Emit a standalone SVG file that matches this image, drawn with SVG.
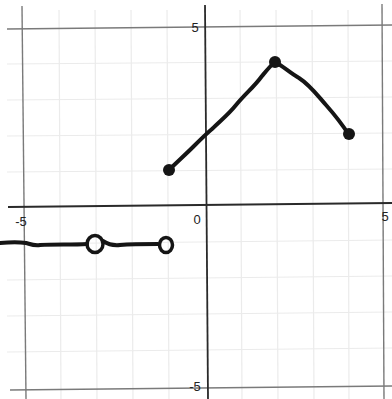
<svg xmlns="http://www.w3.org/2000/svg" width="392" height="399" viewBox="0 0 392 399">
<style>
.grid{stroke:#ebebeb;stroke-width:1.2;fill:none}
.border{stroke:#7a7a7a;stroke-width:1.4;fill:none}
.axis{stroke:#2a2a2a;stroke-width:1.8;fill:none}
.ink{stroke:#151515;stroke-width:4;fill:none;stroke-linecap:round;stroke-linejoin:round}
.lbl{font-family:"Liberation Sans",Arial,sans-serif;font-size:13px;fill:#222}
</style>
<rect width="392" height="399" fill="#ffffff"/>
<g id="grid">
<line class="grid" x1="59" y1="10" x2="61" y2="399"/>
<line class="grid" x1="95" y1="10" x2="97" y2="399"/>
<line class="grid" x1="131" y1="10" x2="133" y2="399"/>
<line class="grid" x1="167" y1="10" x2="169" y2="399"/>
<line class="grid" x1="240" y1="10" x2="242" y2="399"/>
<line class="grid" x1="276" y1="10" x2="278" y2="399"/>
<line class="grid" x1="312" y1="10" x2="314" y2="399"/>
<line class="grid" x1="348" y1="10" x2="349" y2="399"/>
<line class="grid" x1="7" y1="64" x2="392" y2="61"/>
<line class="grid" x1="7" y1="100" x2="392" y2="97"/>
<line class="grid" x1="7" y1="136" x2="392" y2="133"/>
<line class="grid" x1="7" y1="172" x2="392" y2="169"/>
<line class="grid" x1="7" y1="244" x2="392" y2="240"/>
<line class="grid" x1="7" y1="280" x2="392" y2="276"/>
<line class="grid" x1="7" y1="316" x2="392" y2="312"/>
<line class="grid" x1="7" y1="352" x2="392" y2="348"/>
</g>
<g id="borders">
<line class="border" x1="22" y1="6" x2="26" y2="399"/>
<line class="border" x1="382" y1="4" x2="384" y2="399"/>
<line class="border" x1="7" y1="29" x2="392" y2="25"/>
<line class="border" x1="10" y1="390" x2="392" y2="386"/>
</g>
<g id="axes">
<line class="axis" x1="205" y1="5" x2="208" y2="399"/>
<line class="axis" x1="8" y1="207" x2="392" y2="203"/>
</g>
<g id="labels">
<text class="lbl" x="195" y="32" text-anchor="middle">5</text>
<text class="lbl" x="21" y="226" text-anchor="middle">-5</text>
<text class="lbl" x="197" y="224" text-anchor="middle">0</text>
<text class="lbl" x="385" y="221" text-anchor="middle">5</text>
<text class="lbl" x="195" y="391" text-anchor="middle">-5</text>
</g>
<g id="upper-piece">
<path class="ink" d="M169,170 C176,163 186,154 193,147 C200,140 206,134 212,129 C220,121 228,115 236,105 C246,93 254,87 262,76 C267,70 271,65 275,62 C283,66 290,73 299,78 C310,85 318,96 326,105 C334,114 342,124 349,135"/>
<circle cx="169" cy="170" r="6" fill="#151515"/>
<circle cx="275" cy="62" r="6" fill="#151515"/>
<circle cx="349" cy="134" r="6" fill="#151515"/>
</g>
<g id="lower-piece">
<path class="ink" d="M0,243 C10,242 20,242 26,243 C30,244 34,246 40,245 C55,244 72,245 87,244"/>
<path class="ink" d="M103,241 C106,243 110,246 120,245 C132,244 145,244 158,244"/>
<ellipse cx="95" cy="244" rx="8" ry="8.5" fill="none" stroke="#151515" stroke-width="3.5"/>
<ellipse cx="166" cy="245" rx="6.5" ry="7.5" fill="none" stroke="#151515" stroke-width="3.5"/>
</g>
</svg>
